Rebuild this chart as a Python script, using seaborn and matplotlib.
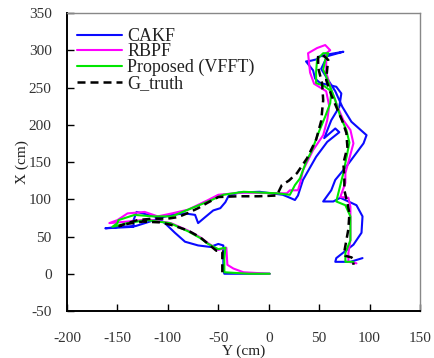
import matplotlib
matplotlib.use("Agg")
import matplotlib.pyplot as plt
import seaborn as sns
import pandas as pd

# horizontal axis = "Y (cm)", vertical axis = "X (cm)"
cakf_y = [1, -44, -45, -45, -50, -58, -70, -83, -93, -103, -113, -131, -134, -134, -148, -162,
          -148, -132, -118, -105, -96, -83, -73, -70, -63, -55, -48, -43, -40, -30, -9, 14, 21,
          26, 29, 34, 47, 58, 70, 66, 55, 62, 70, 72, 67, 51, 46, 44, 37, 42, 48, 49, 57, 74,
          58, 52, 58, 66, 73, 82, 97, 94, 77, 66, 62, 54, 64, 71, 87, 93, 92, 84, 67, 66, 81, 93]
cakf_x = [0, 0, 5, 38, 40, 36, 38, 43, 55, 68, 77, 83, 72, 63, 62, 61,
          63, 64, 70, 76, 79, 81, 79, 68, 76, 85, 88, 96, 104, 109, 110, 106, 102,
          99, 105, 126, 157, 177, 190, 195, 182, 206, 224, 242, 251, 256, 262, 273, 285, 286, 288, 291, 294, 298,
          292, 275, 262, 245, 224, 204, 186, 175, 144, 126, 112, 97, 97, 102, 92, 77, 55, 39, 21, 16, 16, 21]

rbpf_y = [1, -25, -35, -41, -42, -50, -60, -68, -80, -97, -120, -140, -158, -150, -140, -123,
          -110, -96, -80, -60, -50, -25, 8, 18, 21, 29, 31, 34, 44, 54, 58, 60, 57, 45, 41, 39,
          48, 56, 61, 57, 57, 62, 68, 74, 81, 84, 76, 76, 71, 79, 81, 81, 79, 79, 87]
rbpf_x = [0, 2, 7, 12, 35, 32, 41, 49, 58, 68, 73, 70, 68, 72, 81, 83,
          77, 81, 86, 99, 106, 109, 108, 108, 112, 112, 121, 139, 166, 186, 206, 225, 245, 255, 270, 296,
          303, 307, 300, 296, 270, 247, 225, 206, 193, 175, 135, 122, 103, 102, 90, 45, 28, 16, 14]

prop_y = [1, -20, -44, -44, -43, -50, -60, -68, -80, -98, -121, -140, -155, -150, -149, -133,
          -115, -96, -80, -60, -45, -25, 8, 21, 26, 31, 37, 43, 49, 56, 61, 62, 55, 47, 47, 48,
          54, 59, 56, 54, 57, 62, 66, 71, 77, 80, 74, 69, 67, 76, 81, 81, 76, 76, 84]
prop_x = [0, 0, 2, 20, 35, 33, 40, 48, 57, 68, 72, 68, 63, 68, 72, 79,
          77, 77, 86, 97, 106, 110, 108, 106, 119, 128, 150, 166, 188, 211, 229, 245, 252, 256, 271, 288,
          296, 296, 287, 274, 265, 247, 233, 211, 193, 176, 135, 108, 97, 92, 77, 45, 28, 16, 16]

truth_y = [-46, -46, -52, -60, -68, -80, -95, -108, -125, -140, -148, -140, -130, -115, -100, -90,
           -81, -70, -61, -50, -30, -10, 8, 13, 20, 28, 38, 47, 52, 54, 53, 49, 49, 55, 59, 58,
           57, 62, 67, 73, 77, 78, 74, 75, 75, 78, 80, 79, 77, 75, 76, 82, 84, 84]
truth_x = [2, 30, 31, 40, 49, 58, 65, 69, 70, 67, 64, 68, 72, 74, 74, 76,
           81, 88, 95, 103, 104, 104, 105, 119, 125, 135, 155, 180, 205, 233, 255, 277, 293, 292, 287, 275,
           260, 240, 224, 205, 189, 170, 148, 130, 112, 95, 81, 60, 45, 30, 24, 22, 20, 12]

series_names = ["CAKF", "RBPF", "Proposed (VFFT)", "G_truth"]
x_ticks = [-200, -150, -100, -50, 0, 50, 100, 150]
y_ticks = [-50, 0, 50, 100, 150, 200, 250, 300, 350]

sns.set_theme(style="white")
plt.rcParams["font.family"] = ["Liberation Serif", "DejaVu Serif"]
plt.rcParams["axes.unicode_minus"] = False

fig = plt.figure(figsize=(4.35, 3.58), dpi=100)
ax = fig.add_axes([67 / 435, 1 - 311 / 358, (420 - 67) / 435, (311 - 13) / 358])

df_c = pd.DataFrame({"y": cakf_y, "x": cakf_x})
df_r = pd.DataFrame({"y": rbpf_y, "x": rbpf_x})
df_p = pd.DataFrame({"y": prop_y, "x": prop_x})
df_t = pd.DataFrame({"y": truth_y, "x": truth_x})

sns.lineplot(data=df_c, x="y", y="x", sort=False, estimator=None, color="#0a0aff",
             lw=1.5, label=series_names[0], ax=ax)
sns.lineplot(data=df_r, x="y", y="x", sort=False, estimator=None, color="#ff00ff",
             lw=1.5, label=series_names[1], ax=ax)
sns.lineplot(data=df_p, x="y", y="x", sort=False, estimator=None, color="#00e600",
             lw=1.5, label=series_names[2], ax=ax)
sns.lineplot(data=df_t, x="y", y="x", sort=False, estimator=None, color="black",
             lw=1.8, label=series_names[3], ax=ax)
ax.lines[-1].set_dashes((3.2, 2.0))

ax.set_xlim(-200, 150)
ax.set_ylim(-50, 350)
ax.set_xticks(x_ticks)
ax.set_yticks(y_ticks)
ax.tick_params(axis="both", direction="in", length=5, width=1, colors="black",
               labelcolor="#333333", labelsize=11, top=False, right=False,
               bottom=True, left=True)
ax.tick_params(axis="x", pad=15)
ax.tick_params(axis="y", pad=11)
for s in ["left", "bottom"]:
    ax.spines[s].set_color("black")
    ax.spines[s].set_linewidth(1.4)
for s in ["top", "right"]:
    ax.spines[s].set_color("#888888")
    ax.spines[s].set_linewidth(1.0)

ax.set_xlabel("Y (cm)", fontsize=11, labelpad=0, color="#222222")
ax.set_ylabel("X (cm)", fontsize=11, labelpad=0, color="#222222")

leg = ax.legend(loc="upper left", bbox_to_anchor=(0.028, 0.95), frameon=False,
                fontsize=13, handlelength=2.5, handletextpad=0.3, labelspacing=-0.08,
                borderpad=0, borderaxespad=0)
for t in leg.get_texts():
    t.set_color("#222222")

fig.savefig("out.png", dpi=100)
